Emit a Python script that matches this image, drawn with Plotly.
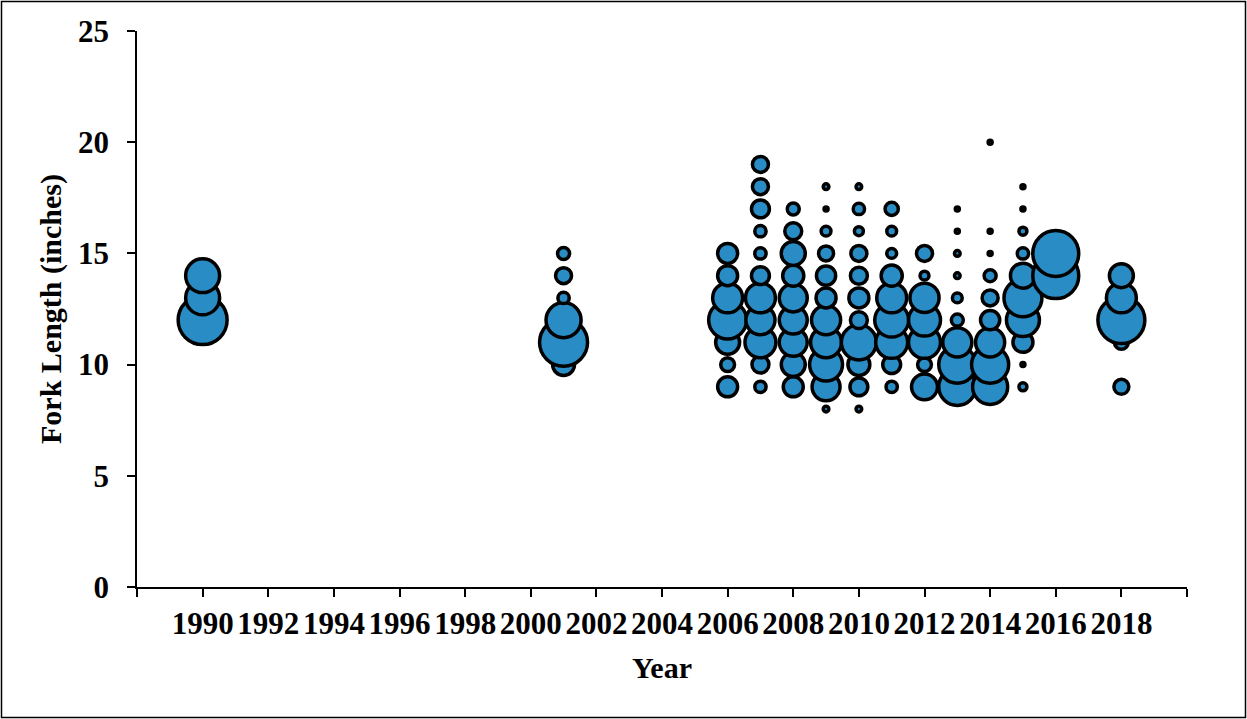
import plotly.graph_objects as go

# Fork length (inches) observed per sample year, with the number of fish at each length
LEN_1990 = [12, 13, 14]
CNT_1990 = [150, 72, 72]

LEN_2001 = [10, 11, 12, 13, 14, 15]
CNT_2001 = [30, 144, 77, 8, 16, 9]

LEN_2006 = [9, 10, 11, 12, 13, 14, 15]
CNT_2006 = [25, 12, 36, 90, 56, 25, 25]

LEN_2007 = [9, 10, 11, 12, 13, 14, 15, 16, 17, 18, 19]
CNT_2007 = [8, 18, 60, 53, 56, 20, 8, 8, 20, 16, 16]

LEN_2008 = [9, 10, 11, 12, 13, 14, 15, 16, 17]
CNT_2008 = [25, 36, 49, 49, 49, 28, 36, 18, 9]

LEN_2009 = [8, 9, 10, 11, 12, 13, 14, 15, 16, 17, 18]
CNT_2009 = [2, 49, 68, 60, 53, 25, 23, 14, 6, 1, 2]

LEN_2010 = [8, 9, 10, 11, 12, 13, 14, 15, 16, 17, 18]
CNT_2010 = [2, 20, 30, 77, 18, 25, 18, 16, 5, 8, 2]

LEN_2011 = [9, 10, 11, 12, 13, 14, 15, 16, 17]
CNT_2011 = [8, 20, 64, 72, 56, 28, 6, 6, 11]

LEN_2012 = [9, 10, 11, 12, 13, 14, 15]
CNT_2012 = [42, 12, 64, 64, 53, 5, 16]

LEN_2013 = [9, 10, 11, 12, 13, 14, 15, 16, 17]
CNT_2013 = [86, 86, 53, 9, 6, 2, 2, 1, 1]

LEN_2014 = [9, 10, 11, 12, 13, 14, 15, 16, 20]
CNT_2014 = [77, 86, 53, 23, 16, 9, 1, 1, 1]

LEN_2015 = [9, 10, 11, 12, 13, 14, 15, 16, 17, 18]
CNT_2015 = [4, 1, 25, 68, 90, 39, 8, 4, 1, 1]

LEN_2016 = [14, 15]
CNT_2016 = [132, 132]

LEN_2018 = [9, 11, 12, 13, 14]
CNT_2018 = [14, 12, 138, 56, 36]

SAMPLES = [
    (1990, LEN_1990, CNT_1990),
    (2001, LEN_2001, CNT_2001),
    (2006, LEN_2006, CNT_2006),
    (2007, LEN_2007, CNT_2007),
    (2008, LEN_2008, CNT_2008),
    (2009, LEN_2009, CNT_2009),
    (2010, LEN_2010, CNT_2010),
    (2011, LEN_2011, CNT_2011),
    (2012, LEN_2012, CNT_2012),
    (2013, LEN_2013, CNT_2013),
    (2014, LEN_2014, CNT_2014),
    (2015, LEN_2015, CNT_2015),
    (2016, LEN_2016, CNT_2016),
    (2018, LEN_2018, CNT_2018),
]

X_TICKS = list(range(1988, 2021, 2))
X_LABELS = [str(v) if 1990 <= v <= 2018 else "" for v in X_TICKS]

xs, ys, ns = [], [], []
for year, lengths, counts in SAMPLES:
    for length, n in zip(lengths, counts):
        xs.append(year)
        ys.append(length)
        ns.append(n)

FONT = "Liberation Serif, Times New Roman, serif"
W, H = 1247, 719
ML, MR, MT, MB = 137, 60, 31, 132

fig = go.Figure(
    go.Scatter(
        x=xs,
        y=ys,
        mode="markers",
        marker=dict(
            size=ns,
            sizemode="area",
            sizeref=0.125,
            sizemin=2,
            color="#2A8CC4",
            opacity=1,
            line=dict(color="black", width=3.5),
        ),
        hoverinfo="x+y",
        showlegend=False,
    )
)

axis_common = dict(
    showline=True,
    linecolor="black",
    linewidth=1.5,
    ticks="outside",
    ticklen=8,
    tickwidth=1.5,
    tickcolor="black",
    showgrid=False,
    zeroline=False,
    tickfont=dict(family=FONT, size=31, color="black", weight="bold"),
)

fig.update_xaxes(
    range=[1988, 2020],
    tickmode="array",
    tickvals=X_TICKS,
    ticktext=X_LABELS,
    title=dict(text="Year", font=dict(family=FONT, size=30, color="black", weight="bold"), standoff=17),
    **axis_common,
)
fig.update_yaxes(
    range=[0, 25],
    tickmode="linear",
    tick0=0,
    dtick=5,
    ticklabelstandoff=12,
    title=dict(text="Fork Length (inches)", font=dict(family=FONT, size=30, color="black", weight="bold"), standoff=8),
    **axis_common,
)

# thin frame around the whole chart area
pw, ph = W - ML - MR, H - MT - MB
fig.add_shape(
    type="rect",
    xref="paper", yref="paper",
    x0=(1.5 - ML) / pw, x1=(W - 1.5 - ML) / pw,
    y0=-(H - 1.5 - MT - ph) / ph, y1=1 + (MT - 1.5) / ph,
    line=dict(color="black", width=1.5),
    fillcolor="rgba(0,0,0,0)",
    layer="below",
)

fig.update_layout(
    width=W,
    height=H,
    margin=dict(l=ML, r=MR, t=MT, b=MB, pad=0),
    paper_bgcolor="white",
    plot_bgcolor="white",
)

fig.write_html("out.html")
